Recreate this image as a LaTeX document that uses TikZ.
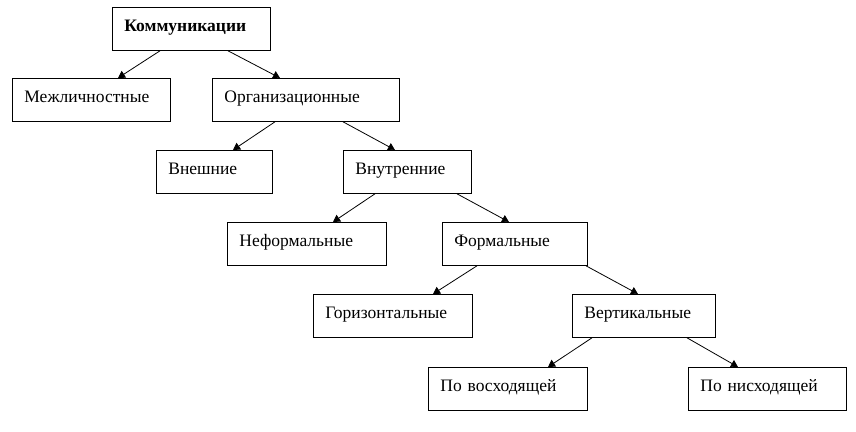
\documentclass[tikz,border=0pt]{standalone}
\usepackage{fontspec}
\setmainfont{Liberation Serif}
\usetikzlibrary{arrows.meta}
\tikzset{
  box/.style={draw, line width=0.8pt, anchor=north west, align=left,
    inner xsep=12pt, inner ysep=0pt, text height=24pt, text depth=19pt,
    text width=#1pt-24pt, font=\fontsize{17.5}{20}\selectfont},
  link/.style={line width=0.8pt, -{Triangle[length=7pt,width=8pt]}}
}
\begin{document}
\begin{tikzpicture}[x=1pt,y=-1pt]
      \useasboundingbox (0,0) rectangle (856,431);
      \path
        (112,7) node[box=158] (komm){\textbf{Коммуникации}}
        (12,78) node[box=158] (mezh){Межличностные}
        (212,78) node[box=187] (org){Организационные}
        (156,150) node[box=116] (vnesh){Внешние}
        (343,150) node[box=128] (vnutr){Внутренние}
        (227,222) node[box=159] (neform){Неформальные}
        (442,222) node[box=145] (form){Формальные}
        (313,294) node[box=159] (goriz){Горизонтальные}
        (572,294) node[box=143] (vert){Вертикальные}
        (428,367) node[box=159] (voskh){По восходящей}
        (688,367) node[box=158] (niskh){По нисходящей};
      \begin{scope}[link]
        \draw ([xshift=48pt]komm.south west) to ([xshift=106pt]mezh.north west);
        \draw ([xshift=116pt]komm.south west) to ([xshift=68pt]org.north west);
        \draw ([xshift=63pt]org.south west) to ([xshift=77pt]vnesh.north west);
        \draw ([xshift=131pt]org.south west) to ([xshift=52pt]vnutr.north west);
        \draw ([xshift=32pt]vnutr.south west) to ([xshift=106pt]neform.north west);
        \draw ([xshift=114pt]vnutr.south west) to ([xshift=67pt]form.north west);
        \draw ([xshift=35pt]form.south west) to ([xshift=120pt]goriz.north west);
        \draw ([xshift=144pt]form.south west) to ([xshift=66pt]vert.north west);
        \draw ([xshift=20pt]vert.south west) to ([xshift=120pt]voskh.north west);
        \draw ([xshift=115pt]vert.south west) to ([xshift=50pt]niskh.north west);
      \end{scope}
    \end{tikzpicture}
\end{document}
